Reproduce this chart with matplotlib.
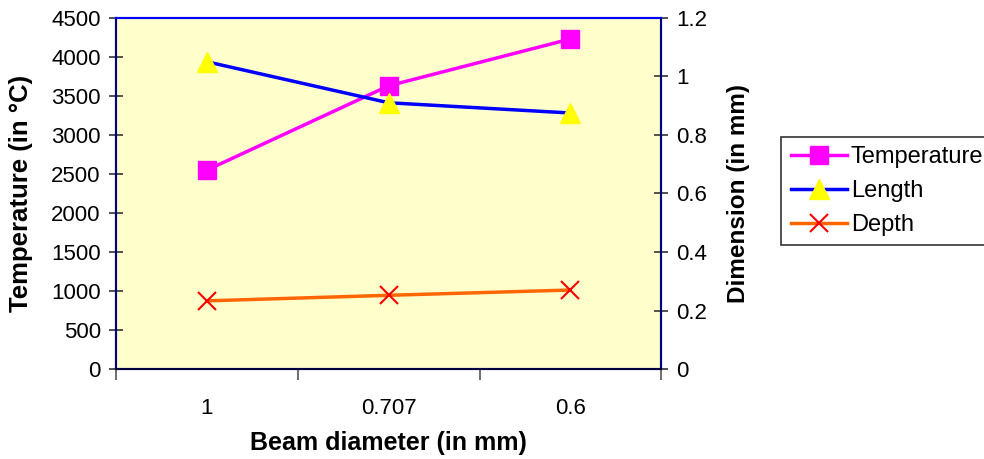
import matplotlib.pyplot as plt

plt.rcParams['font.family'] = ['Liberation Sans', 'DejaVu Sans']

diameters = ['1', '0.707', '0.6']
temperature = [2550, 3630, 4230]
length = [1.05, 0.91, 0.875]
depth = [0.233, 0.252, 0.27]

fig = plt.figure(figsize=(9.84, 4.59), dpi=100)
ax = fig.add_axes([0.118, 0.196, 0.554, 0.765])
ax.set_facecolor('#FFFFCC')
ax2 = ax.twinx()

x = range(len(diameters))
l1, = ax.plot(x, temperature, color='#FF00FF', lw=2.5, marker='s', ms=13,
              mfc='#FF00FF', mec='#FF00FF', label='Temperature')
l2, = ax2.plot(x, length, color='#0000FF', lw=2.5, marker='^', ms=14,
               mfc='#FFFF00', mec='#FFFF00', label='Length')
l3, = ax2.plot(x, depth, color='#FF6600', lw=2.5, marker='x', ms=13,
               mec='#FF0000', mew=1.5, label='Depth')

ax.set_xlim(-0.5, 2.5)
ax.set_ylim(0, 4500)
ax.set_yticks(range(0, 4501, 500))
ax2.set_ylim(0, 1.2)
ax2.set_yticks([0, 0.2, 0.4, 0.6, 0.8, 1, 1.2])
ax2.set_yticklabels(['0', '0.2', '0.4', '0.6', '0.8', '1', '1.2'])

# category labels in the middle, ticks between categories
ax.set_xticks([-0.5, 0.5, 1.5, 2.5])
ax.set_xticklabels([])
ax.set_xticks(list(x), minor=True)
ax.set_xticklabels(diameters, minor=True)
ax.tick_params(axis='x', which='minor', length=0, pad=21, labelsize=16)
ax.tick_params(axis='x', which='major', direction='out', length=8, color='#555555', width=1.2)
ax.tick_params(axis='y', direction='inout', length=10, width=1.2, labelsize=16, pad=6, color='#333333')
ax2.tick_params(axis='y', direction='inout', length=10, width=1.2, labelsize=16, pad=6, color='#333333')

for a in (ax, ax2):
    a.spines['left'].set_color('#000080')
    a.spines['right'].set_color('#000080')
    a.spines['top'].set_color('#0000FF')
    a.spines['bottom'].set_color('#000040')
    for s in a.spines.values():
        s.set_linewidth(1.5)

ax.set_xlabel('Beam diameter (in mm)', fontsize=18, fontweight='bold')
ax.set_ylabel('Temperature (in \u00b0C)', fontsize=18.5, fontweight='bold')
ax2.set_ylabel('Dimension (in mm)', fontsize=17.5, fontweight='bold')
ax.xaxis.set_label_coords(0.5, -0.177)
ax.yaxis.set_label_coords(-0.152, 0.5)
ax2.yaxis.set_label_coords(1.121, 0.5)

leg = fig.legend(handles=[l1, l2, l3], loc='upper left', bbox_to_anchor=(0.794, 0.702),
                 fontsize=17, frameon=True, fancybox=False, edgecolor='black',
                 handlelength=2.4, handletextpad=0.15, labelspacing=0.5, borderpad=0.4,
                 borderaxespad=0)
leg.get_frame().set_linewidth(1.2)

fig.savefig('out.png', dpi=100)
